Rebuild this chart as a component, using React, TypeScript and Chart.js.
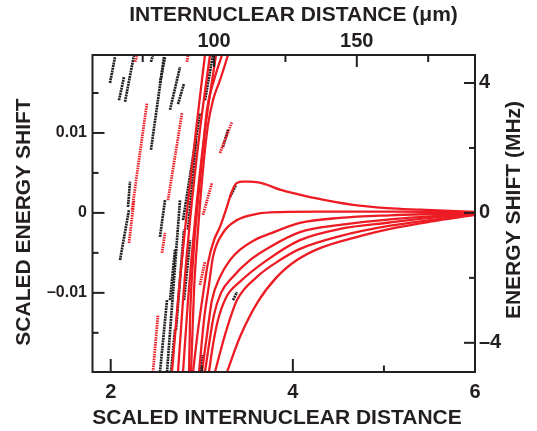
import React, { useEffect, useRef } from 'react';
import { Chart, registerables } from 'chart.js';

Chart.register(...registerables);

type Pt = [number, number];

// ---- theory curves (red, solid): [scaled distance, scaled energy shift]
const humpCurve: Pt[] = [[2.904,-0.0199],[2.959,-0.0146],[3.013,-0.01025],[3.068,-0.00625],[3.134,-0.0034],[3.2,-0.00175],[3.266,0.0004],[3.31,0.002],[3.365,0.0035],[3.442,0.0039],[3.529,0.0039],[3.694,0.0036],[3.859,0.0029],[4.221,0.0019],[4.66,0.001],[5.034,0.0006],[5.396,0.0004],[6.0,0.000125]];
const zeroCurve: Pt[] = [[2.97,-0.0199],[3.024,-0.0134],[3.079,-0.009],[3.123,-0.0055],[3.233,-0.0025],[3.387,-0.0009],[3.606,-0.000125],[3.859,0.0001],[4.298,0.00016],[5.178,0.00015],[6.0,0.00006]];
const curve3: Pt[] = [[3.002,-0.0199],[3.057,-0.01525],[3.112,-0.0109],[3.2,-0.008],[3.31,-0.0059],[3.42,-0.0046],[3.562,-0.0035],[3.749,-0.0026],[4.078,-0.00125],[4.518,-0.000625],[5.067,-0.0003],[5.506,-0.00015],[6.0,-0.000025]];
const curve4: Pt[] = [[3.035,-0.0199],[3.079,-0.0165],[3.134,-0.01275],[3.211,-0.01],[3.332,-0.0081],[3.529,-0.0059],[3.749,-0.00425],[4.078,-0.0024],[4.518,-0.0015],[5.067,-0.0008],[5.506,-0.00044],[6.0,-0.000075]];
const curve5: Pt[] = [[3.079,-0.0199],[3.123,-0.0165],[3.178,-0.0134],[3.266,-0.0106],[3.42,-0.0086],[3.716,-0.0059],[4.078,-0.0034],[4.518,-0.002],[5.067,-0.0012],[5.506,-0.000625],[6.0,-0.000125]];
const curve6: Pt[] = [[3.145,-0.0199],[3.255,-0.01525],[3.387,-0.0109],[3.606,-0.008],[3.859,-0.0059],[4.078,-0.0045],[4.518,-0.0029],[5.067,-0.0016],[5.506,-0.0009],[6.0,-0.0002]];
const curve7: Pt[] = [[3.277,-0.0199],[3.42,-0.0155],[3.617,-0.0111],[3.826,-0.008],[4.045,-0.0059],[4.298,-0.0044],[4.737,-0.0029],[5.067,-0.002],[5.506,-0.0011],[6.0,-0.00025]];
const steep1: Pt[] = [[2.673,-0.0199],[2.739,-0.0109],[2.827,-0.0009],[2.937,0.0104],[3.035,0.01975]];
const steep2: Pt[] = [[2.739,-0.0199],[2.794,-0.0109],[2.871,-0.0009],[2.98,0.0104],[3.09,0.01975]];
const steep3: Pt[] = [[2.794,-0.0199],[2.849,-0.0109],[2.926,-0.0009],[3.035,0.0104],[3.156,0.01975]];
const steep4: Pt[] = [[2.86,-0.0199],[2.871,-0.0134],[2.904,-0.0059],[2.959,0.0016],[3.013,0.0079],[3.057,0.0129],[3.134,0.0166],[3.222,0.01975]];
const steep5: Pt[] = [[2.882,-0.0199],[2.915,-0.0096],[2.959,-0.0021],[3.013,0.0054],[3.068,0.011],[3.123,0.0141],[3.2,0.0166],[3.288,0.01975]];

// ---- measured spectra, black set (dotted segments)
const blackRuns: Pt[][] = [
  [[1.992,0.01625],[2.047,0.0195]],
  [[2.091,0.0141],[2.146,0.017]],
  [[2.157,0.0139],[2.256,0.01975]],
  [[2.442,0.0189],[2.464,0.01975]],
  [[2.442,0.0079],[2.585,0.0195]],
  [[2.19,0.00075],[2.212,0.0039]],
  [[2.102,-0.0059],[2.201,0.0004]],
  [[2.739,0.0136],[2.805,0.0162]],
  [[2.651,0.0129],[2.761,0.01825]],
  [[2.541,0.01625],[2.596,0.0195]],
  [[2.541,-0.003],[2.596,0.0016]],
  [[2.541,-0.0199],[2.618,-0.0109]],
  [[2.794,-0.0009],[2.98,0.0125]],
  [[2.618,-0.0199],[2.761,0.0016]],
  [[3.233,0.00825],[3.288,0.0104]],
  [[3.31,0.002],[3.376,0.0035]],
  [[3.035,0.0141],[3.123,0.01975]],
  [[2.805,-0.0109],[2.871,-0.0034]],
  [[2.991,-0.0199],[3.002,-0.01775]],
  [[2.651,-0.0109],[2.706,-0.0046]],
  [[3.343,-0.0109],[3.387,-0.0099]],
  [[2.849,-0.0021],[2.937,0.0091]],
  [[2.717,-0.0146],[2.805,-0.0021]],
  [[2.662,-0.0199],[2.706,-0.0146]],
];

// ---- measured spectra, red set (dotted segments)
const redRuns: Pt[][] = [
  [[2.234,0.0004],[2.398,0.01375]],
  [[2.201,-0.00375],[2.256,0.0016]],
  [[2.629,0.0016],[2.783,0.0125]],
  [[2.464,-0.0199],[2.519,-0.01275]],
  [[3.2,0.0075],[3.332,0.0114]],
  [[3.013,-0.00025],[3.112,0.00375]],
  [[2.563,-0.005],[2.596,-0.0025]],
  [[2.267,0.0189],[2.288,0.0196]],
  [[2.838,0.0189],[2.849,0.01975]],
  [[2.98,-0.009],[3.035,-0.0061]],
];

const theoryCurves: Pt[][] = [humpCurve, zeroCurve, curve3, curve4, curve5, curve6, curve7, steep1, steep2, steep3, steep4, steep5];

// ---- axes
const xRange = [1.8, 6];
const yRange = [-0.0199, 0.01975];
const MICRONS_PER_UNIT = 31.9;     // top axis: distance in micrometres
const MHZ_PER_UNIT = 1 / 0.0040625; // right axis: energy in MHz
const xMajorTicks = [2, 4, 6];
const xMinorTicks = [3, 5];
const yMajorTicks = [-0.01, 0, 0.01];
const yMinorTicks = [-0.015, -0.005, 0.005, 0.015];
const topMajorTicks = [100, 150];
const topMinorTicks = [75, 125, 175];
const rightMajorTicks = [-4, 0, 4];
const rightMinorTicks = [-2, 2];

const bottomTitle = 'SCALED INTERNUCLEAR DISTANCE';
const topTitle = 'INTERNUCLEAR DISTANCE (\u03bcm)';
const leftTitle = 'SCALED ENERGY SHIFT';
const rightTitle = 'ENERGY SHIFT (MHz)';

const RED = '#ed1c24';
const INK = '#231f20';
const FONT = '"Liberation Sans", Arial, Helvetica, sans-serif';

const fmt = (v: number) => (v === 0 ? '0' : (v < 0 ? '\u2013' : '') + String(Math.abs(v)));
const toXY = (pts: Pt[]) => [...pts].sort((a, b) => a[0] - b[0]).map(([x, y]) => ({ x, y }));

const framePlugin = {
  id: 'frameTicksTitles',
  afterDraw(chart: any) {
    const { ctx, chartArea: a, scales } = chart;
    ctx.save();
    ctx.strokeStyle = INK;
    ctx.lineWidth = 2;
    const seg = (x1: number, y1: number, x2: number, y2: number) => {
      ctx.beginPath(); ctx.moveTo(x1, y1); ctx.lineTo(x2, y2); ctx.stroke();
    };
    xMajorTicks.forEach((v) => { const p = scales.x.getPixelForValue(v); seg(p, a.bottom, p, a.bottom - 13); });
    xMinorTicks.forEach((v) => { const p = scales.x.getPixelForValue(v); seg(p, a.bottom, p, a.bottom - 6.5); });
    topMajorTicks.forEach((v) => { const p = scales.x2.getPixelForValue(v); seg(p, a.top, p, a.top + 12); });
    topMinorTicks.forEach((v) => { const p = scales.x2.getPixelForValue(v); seg(p, a.top, p, a.top + 7); });
    yMajorTicks.forEach((v) => { const p = scales.y.getPixelForValue(v); seg(a.left, p, a.left + 12, p); });
    yMinorTicks.forEach((v) => { const p = scales.y.getPixelForValue(v); seg(a.left, p, a.left + 6, p); });
    rightMajorTicks.forEach((v) => { const p = scales.y2.getPixelForValue(v); seg(a.right, p, a.right - 11, p); });
    rightMinorTicks.forEach((v) => { const p = scales.y2.getPixelForValue(v); seg(a.right, p, a.right - 6, p); });
    ctx.strokeRect(a.left, a.top, a.right - a.left, a.bottom - a.top);

    ctx.fillStyle = INK;
    ctx.font = `bold 21px ${FONT}`;
    ctx.textAlign = 'center';
    ctx.textBaseline = 'alphabetic';
    ctx.fillText(bottomTitle, 277, 423.5);
    ctx.fillText(topTitle, 293.5, 21);
    ctx.save(); ctx.translate(29.5, 222); ctx.rotate(-Math.PI / 2); ctx.fillText(leftTitle, 0, 0); ctx.restore();
    ctx.save(); ctx.translate(519.5, 210); ctx.rotate(-Math.PI / 2); ctx.fillText(rightTitle, 0, 0); ctx.restore();
    ctx.restore();
  },
};

const setTicks = (values: number[]) => (scale: any) => { scale.ticks = values.map((value) => ({ value })); };

export default function App() {
  const ref = useRef<HTMLCanvasElement>(null);
  useEffect(() => {
    const datasets: any[] = [];
    theoryCurves.forEach((c) => datasets.push({
      data: toXY(c), borderColor: RED, borderWidth: 2.3, pointRadius: 0,
      cubicInterpolationMode: 'monotone', order: 0,
    }));
    redRuns.forEach((c) => datasets.push({
      data: toXY(c), borderColor: RED, borderWidth: 2.8, pointRadius: 0,
      borderDash: [1.5, 0.9], order: 1,
    }));
    blackRuns.forEach((c) => datasets.push({
      data: toXY(c), borderColor: INK, borderWidth: 2.7, pointRadius: 0,
      borderDash: [2, 0.7], order: 2,
    }));

    const tickFont = { family: FONT, size: 20, weight: 'bold' as const };
    const chart = new Chart(ref.current!, {
      type: 'line',
      data: { datasets },
      plugins: [framePlugin],
      options: {
        animation: false,
        responsive: false,
        layout: { padding: 0 },
        plugins: { legend: { display: false }, tooltip: { enabled: false } },
        scales: {
          x: {
            type: 'linear', position: 'bottom', min: xRange[0], max: xRange[1],
            grid: { display: false, drawTicks: false }, border: { display: false },
            afterBuildTicks: setTicks(xMajorTicks),
            ticks: { font: tickFont, color: INK, padding: 8.5, maxRotation: 0, autoSkip: false, callback: (v: any) => fmt(Number(v)) },
            afterFit: (s: any) => { s.height = 59; },
          },
          x2: {
            type: 'linear', axis: 'x', position: 'top',
            min: xRange[0] * MICRONS_PER_UNIT, max: xRange[1] * MICRONS_PER_UNIT,
            grid: { display: false, drawTicks: false }, border: { display: false },
            afterBuildTicks: setTicks(topMajorTicks),
            ticks: { font: tickFont, color: INK, padding: 1.5, maxRotation: 0, autoSkip: false, callback: (v: any) => fmt(Number(v)) },
            afterFit: (s: any) => { s.height = 55; },
          },
          y: {
            type: 'linear', position: 'left', min: yRange[0], max: yRange[1],
            grid: { display: false, drawTicks: false }, border: { display: false },
            afterBuildTicks: setTicks(yMajorTicks),
            ticks: { font: { ...tickFont, size: 16 }, color: INK, padding: 5.5, autoSkip: false, callback: (v: any) => fmt(Number(v)) },
            afterFit: (s: any) => { s.width = 92.5; },
          },
          y2: {
            type: 'linear', axis: 'y', position: 'right',
            min: yRange[0] * MHZ_PER_UNIT, max: yRange[1] * MHZ_PER_UNIT,
            grid: { display: false, drawTicks: false }, border: { display: false },
            afterBuildTicks: setTicks(rightMajorTicks),
            ticks: { font: tickFont, color: INK, padding: 4, autoSkip: false, callback: (v: any) => fmt(Number(v)) },
            afterFit: (s: any) => { s.width = 62; },
          },
        },
      } as any,
    });
    return () => chart.destroy();
  }, []);

  return (
    <div style={{ position: 'fixed', left: 0, top: 0, width: 537, height: 431, background: '#fff' }}>
      <canvas ref={ref} width={537} height={431} style={{ display: 'block' }} />
    </div>
  );
}
